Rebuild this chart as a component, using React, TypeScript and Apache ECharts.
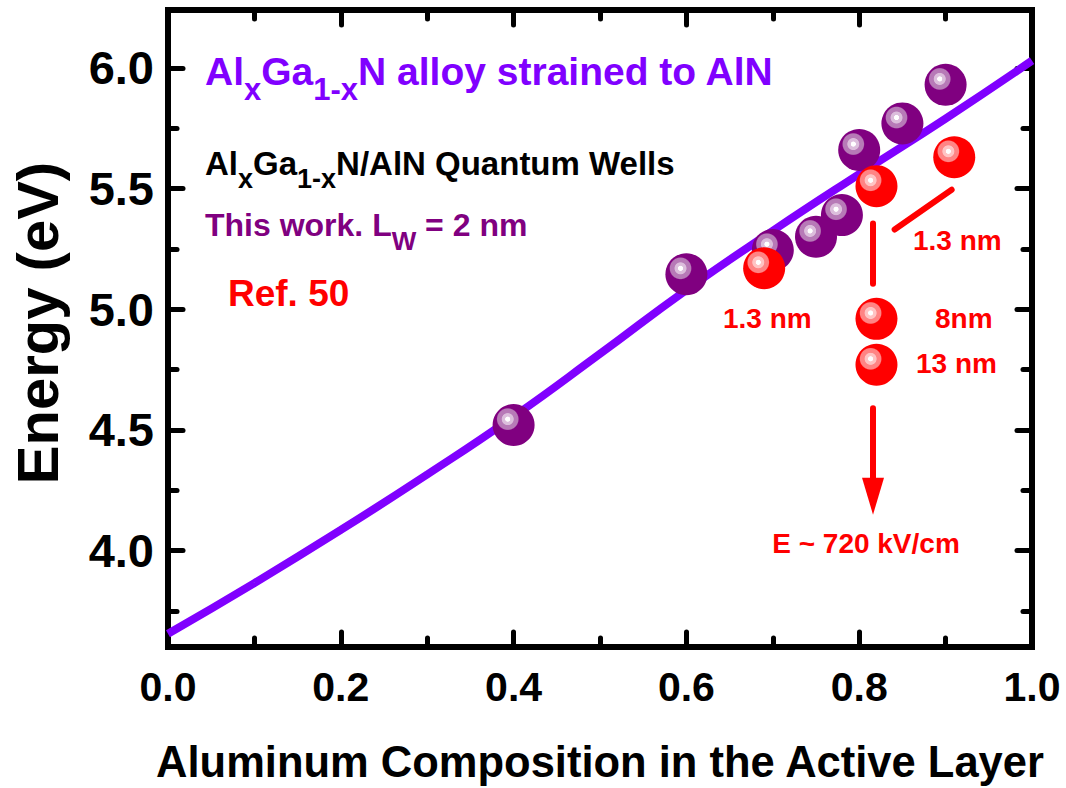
import React, { useEffect, useRef } from 'react';
import * as echarts from 'echarts';

// Band gap of AlxGa1-xN strained to AlN
const curveX = [0, 0.1, 0.2, 0.3, 0.4, 0.5, 0.6, 0.7, 0.8, 0.9, 1.0];
const curveE = [3.655, 3.865, 4.085, 4.315, 4.555, 4.815, 5.08, 5.325, 5.56, 5.79, 6.03];

// This work, Lw = 2 nm
const workX = [0.40, 0.60, 0.70, 0.75, 0.78, 0.80, 0.85, 0.90];
const workE = [4.52, 5.145, 5.245, 5.30, 5.39, 5.66, 5.77, 5.93];

// Ref. 50
const refX = [0.69, 0.82, 0.91, 0.82, 0.82];
const refE = [5.17, 5.51, 5.63, 4.96, 4.77];

// Axis ticks
const xTicks = [0, 0.2, 0.4, 0.6, 0.8, 1.0];
const yTicks = [4.0, 4.5, 5.0, 5.5, 6.0];
const yMinorTicks = [3.75, 4.25, 4.75, 5.25, 5.75];

// Guide segments near the Ref. 50 points: [x1, E1, x2, E2]
const leaderSlant = [0.841, 5.33, 0.907, 5.495];
const leaderDrop = [0.816, 5.355, 0.816, 5.105];
const fieldArrow = [0.816, 4.59, 0.816, 4.225];

const FONT = 'Liberation Sans, Arial, Helvetica, sans-serif';

// glossy sphere: base colour with a ringed highlight towards the upper left
function ball(base: string, ring: string, inner: string) {
  return new echarts.graphic.RadialGradient(0.36, 0.36, 0.38, [
    { offset: 0, color: '#ffffff' },
    { offset: 0.14, color: '#ffffff' },
    { offset: 0.18, color: inner },
    { offset: 0.35, color: inner },
    { offset: 0.4, color: ring },
    { offset: 0.64, color: ring },
    { offset: 0.71, color: base },
    { offset: 1, color: base },
  ]);
}

const axisBlack = { color: '#000', width: 6, cap: 'square' as const };

function yAxisDef(position: 'left' | 'right', values: number[], len: number, withLine: boolean, withLabels: boolean) {
  return {
    type: 'value',
    position,
    min: 3.6,
    max: 6.24,
    offset: 0,
    axisLine: { show: withLine, lineStyle: axisBlack },
    axisTick: { show: true, inside: true, length: len, customValues: values, lineStyle: { color: '#000', width: 5, cap: 'round' } },
    axisLabel: withLabels
      ? {
          show: true,
          customValues: yTicks,
          margin: 14,
          color: '#000',
          fontFamily: FONT,
          fontWeight: 'bold',
          fontSize: 47,
          formatter: (v: number) => v.toFixed(1),
        }
      : { show: false },
    splitLine: { show: false },
  };
}

function xAxisDef(position: 'top' | 'bottom', withLabels: boolean) {
  return {
    type: 'value',
    position,
    min: 0,
    max: 1,
    interval: 0.2,
    axisLine: { show: true, lineStyle: axisBlack },
    axisTick: { show: true, inside: true, length: 15, lineStyle: { color: '#000', width: 5, cap: 'round' } },
    minorTick: { show: true, splitNumber: 2, length: 9, lineStyle: { color: '#000', width: 5, cap: 'round' } },
    axisLabel: withLabels
      ? {
          show: true,
          margin: 19,
          color: '#000',
          fontFamily: FONT,
          fontWeight: 'bold',
          fontSize: 41,
          customValues: xTicks,
          formatter: (v: number) => v.toFixed(1),
        }
      : { show: false },
    splitLine: { show: false },
    minorSplitLine: { show: false },
    name: withLabels ? 'Aluminum Composition in the Active Layer' : '',
    nameLocation: 'middle',
    nameGap: 93,
    nameTextStyle: { color: '#000', fontFamily: FONT, fontWeight: 'bold', fontSize: 43.5 },
  };
}

function seg(s: number[], end?: object) {
  return [
    { coord: [s[0], s[1]], symbol: 'none' },
    { coord: [s[2], s[3]], symbol: 'none', ...(end || {}) },
  ];
}

// main glyphs sit at the top of the line box, subscripts are centred lower down
function richLine(color: string, main: number, sub: number, mainLH: number, subLH: number) {
  return {
    m: { fontFamily: FONT, fontWeight: 'bold', fontSize: main, fill: color, lineHeight: mainLH, verticalAlign: 'top' },
    s: { fontFamily: FONT, fontWeight: 'bold', fontSize: sub, fill: color, lineHeight: subLH, verticalAlign: 'middle' },
  };
}

function richText(text: string, x: number, y: number, rich: object) {
  return {
    type: 'text',
    x,
    y,
    silent: true,
    style: { text, rich, textVerticalAlign: 'top', textAlign: 'left' },
  };
}

function textAt(text: string, x: number, y: number, color: string, size: number, align = 'left') {
  return {
    type: 'text',
    x,
    y,
    silent: true,
    style: {
      text,
      fill: color,
      font: `bold ${size}px ${FONT}`,
      textAlign: align,
      textVerticalAlign: 'middle',
    },
  };
}

export default function App() {
  const ref = useRef<HTMLDivElement>(null);

  useEffect(() => {
    document.body.style.margin = '0';
    const chart = echarts.init(ref.current!, null, { renderer: 'svg' });

    const option = {
      animation: false,
      backgroundColor: '#ffffff',
      grid: { left: 168, right: 34, top: 10, bottom: 141, containLabel: false, outerBoundsMode: 'none' },
      xAxis: [xAxisDef('bottom', true), xAxisDef('top', false)],
      yAxis: [
        {
          ...yAxisDef('left', yTicks, 15, true, true),
          name: 'Energy (eV)',
          nameLocation: 'middle',
          nameGap: 102,
          nameTextStyle: { color: '#000', fontFamily: FONT, fontWeight: 'bold', fontSize: 58, padding: [0, 0, 0, 11] },
        },
        yAxisDef('left', yMinorTicks, 9, false, false),
        yAxisDef('right', yTicks, 15, true, false),
        yAxisDef('right', yMinorTicks, 9, false, false),
      ],
      series: [
        {
          name: 'AlGaN strained to AlN',
          type: 'line',
          xAxisIndex: 0,
          yAxisIndex: 0,
          data: curveX.map((x, i) => [x, curveE[i]]),
          smooth: true,
          showSymbol: false,
          lineStyle: { color: '#8000ff', width: 8 },
          z: 2,
          silent: true,
        },
        {
          name: 'This work',
          type: 'scatter',
          xAxisIndex: 0,
          yAxisIndex: 0,
          data: workX.map((x, i) => [x, workE[i]]),
          symbol: 'circle',
          symbolSize: 42,
          itemStyle: { color: ball('#800080', '#b77ab7', '#dcbedc'), opacity: 1 },
          emphasis: { disabled: true },
          z: 3,
          silent: true,
        },
        {
          name: 'Ref. 50',
          type: 'scatter',
          xAxisIndex: 0,
          yAxisIndex: 0,
          data: refX.map((x, i) => [x, refE[i]]),
          symbol: 'circle',
          symbolSize: 42,
          itemStyle: { color: ball('#ff0000', '#ff8484', '#ffc4c4'), opacity: 1 },
          emphasis: { disabled: true },
          z: 4,
          silent: true,
          markLine: {
            silent: true,
            symbol: ['none', 'none'],
            label: { show: false },
            emphasis: { disabled: true },
            lineStyle: { color: '#ff0000', width: 6, type: 'solid', cap: 'round' },
            data: [
              seg(leaderSlant),
              seg(leaderDrop),
              seg(fieldArrow, { symbol: 'triangle', symbolSize: [22, 37] }),
            ],
          },
        },
      ],
      graphic: [
        richText('{m|Al}{s|x}{m|Ga}{s|1-x}{m|N alloy strained to AlN}', 205, 52, richLine('#8000ff', 39, 31, 44, 74)),
        richText('{m|Al}{s|x}{m|Ga}{s|1-x}{m|N/AlN Quantum Wells}', 205, 147, richLine('#000000', 33, 27, 38, 64)),
        richText('{m|This work. L}{s|W}{m| = 2 nm}', 205, 209, richLine('#800080', 32, 26, 38, 64)),
        textAt('Ref. 50', 228, 293, '#ff0000', 37),
        textAt('1.3 nm', 913, 240, '#ff0000', 28),
        textAt('1.3 nm', 723, 318, '#ff0000', 28),
        textAt('8nm', 935, 318, '#ff0000', 28),
        textAt('13 nm', 916, 363, '#ff0000', 28),
        textAt('E ~ 720 kV/cm', 866, 543, '#ff0000', 28, 'center'),
      ],
    };

    chart.setOption(option as any);
    return () => chart.dispose();
  }, []);

  return <div ref={ref} style={{ width: 1066, height: 788 }} />;
}
